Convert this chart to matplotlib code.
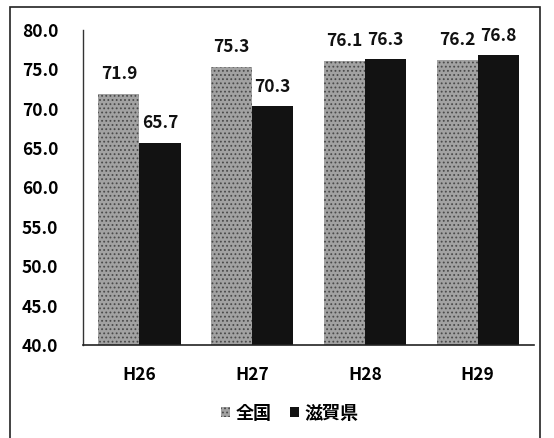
import numpy as np
import matplotlib
matplotlib.use("Agg")
import matplotlib.pyplot as plt
from matplotlib.patches import Rectangle

plt.rcParams['font.family'] = ['Noto Sans CJK JP', 'DejaVu Sans']

years = ["H26", "H27", "H28", "H29"]
zenkoku = [71.9, 75.3, 76.1, 76.2]
shiga = [65.7, 70.3, 76.3, 76.8]
series_names = ["全国", "滋賀県"]

fig = plt.figure(figsize=(5.54, 4.38), dpi=100)
ax = fig.add_axes([0.150, 0.212, 0.814, 0.720])

x = np.arange(len(years))
w = 0.365
plt.rcParams['hatch.linewidth'] = 0.8
b1 = ax.bar(x - w / 2, zenkoku, w, color="#a2a2a2",
            edgecolor="#4a4a4a", hatch="....", linewidth=0, label=series_names[0])
b2 = ax.bar(x + w / 2, shiga, w, color="#121212", linewidth=0,
            label=series_names[1])

for bars in (b1, b2):
    for rect in bars:
        h = rect.get_height()
        ax.annotate(f"{h:.1f}", (rect.get_x() + rect.get_width() / 2, h),
                    xytext=(0, 14), textcoords="offset points",
                    ha="center", va="center", fontsize=12.5,
                    fontweight="bold", color="#111111")

ax.set_xlim(-0.5, len(years) - 0.5)
ax.set_ylim(40, 80)
ax.set_yticks(np.arange(40, 81, 5))
ax.set_yticklabels([f"{v:.1f}" for v in np.arange(40, 81, 5)])
ax.set_xticks(x)
ax.set_xticklabels(years)
ax.tick_params(axis="y", length=0, pad=18, labelsize=12.5)
ax.tick_params(axis="x", length=0, pad=15, labelsize=12.5)
for lbl in ax.get_xticklabels() + ax.get_yticklabels():
    lbl.set_fontweight("bold")

for s in ("top", "right"):
    ax.spines[s].set_visible(False)
ax.spines["left"].set_color("#333333")
ax.spines["bottom"].set_color("#222222")
ax.spines["left"].set_linewidth(1.0)
ax.spines["bottom"].set_linewidth(1.2)

fig.legend(handles=[b1, b2], labels=series_names, loc="center",
           bbox_to_anchor=(0.523, 0.057), ncol=2, frameon=False,
           prop={"size": 13, "weight": "bold"}, handlelength=0.5,
           handleheight=0.5, handletextpad=0.3, columnspacing=1.0)

# outer frame of the scanned chart
fig.patches.append(Rectangle((10 / 554, -0.05), 530 / 554, 1.05 - 7 / 438,
                             transform=fig.transFigure, fill=False,
                             edgecolor="#222222", linewidth=1.2))

fig.savefig("out.png", dpi=100)
